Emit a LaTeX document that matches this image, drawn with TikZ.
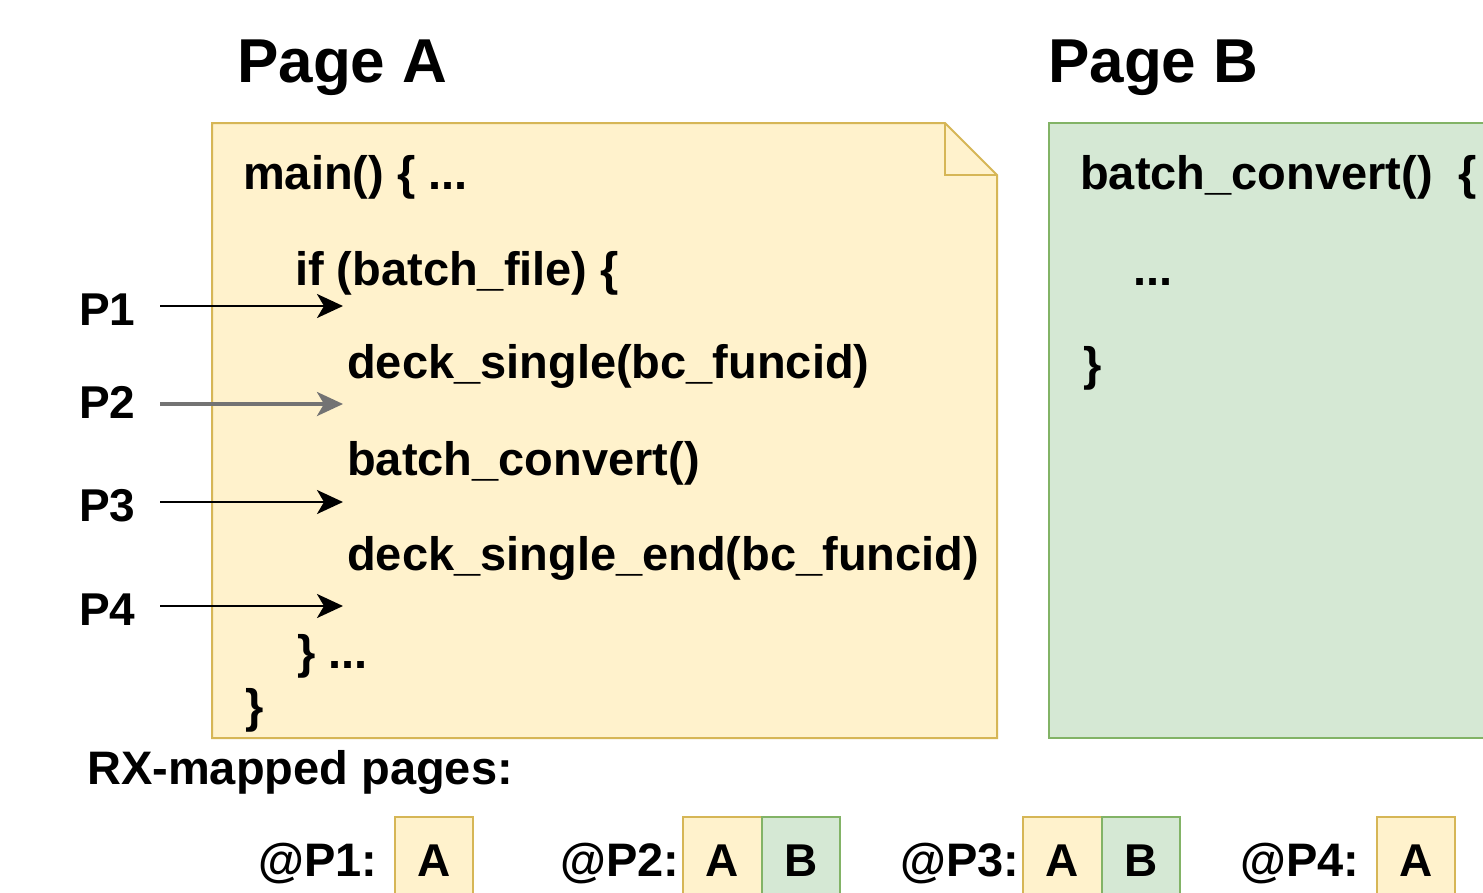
\documentclass[tikz,border=0pt]{standalone}
\usepackage{fontspec}
\setmainfont{Liberation Sans}
\usetikzlibrary{arrows.meta}
\definecolor{ylfill}{HTML}{FFF2CC}
\definecolor{ylline}{HTML}{D6B656}
\definecolor{grfill}{HTML}{D5E8D4}
\definecolor{grline}{HTML}{82B366}
\tikzset{
  txt/.style={anchor=base west, inner sep=0pt, font=\fontsize{47}{56}\selectfont\bfseries},
  title/.style={anchor=base west, inner sep=0pt, font=\fontsize{62}{74}\selectfont\bfseries},
  plabel/.style={anchor=west, inner sep=0pt, font=\fontsize{46}{55}\selectfont\bfseries},
  headtip/.tip={Stealth[length=26pt,width=24pt,inset=7pt]},
  ptr/.style={line width=2.6pt, -headtip},
  ptrg/.style={line width=3.5pt, black!55, -headtip},
  ybox/.style={fill=ylfill, draw=ylline, line width=2pt},
  gbox/.style={fill=grfill, draw=grline, line width=2pt},
  cell/.style={anchor=base, inner sep=0pt, font=\fontsize{46}{55}\selectfont\bfseries},
}
\begin{document}
\begin{tikzpicture}[x=1pt,y=-1pt]
\useasboundingbox (0,0) rectangle (1483,892);
\clip (0,0) rectangle (1483,892);
\fill[white] (0,0) rectangle (1483,892);

% titles
\node[title] (tA) at (237,82) {Page A};
\node[title] (tB) at (1048,82) {Page B};

% page A note
\draw[ybox, line join=miter] (212,123) -- (945,123) -- (997,175) -- (997,738) -- (212,738) -- cycle;
\draw[draw=ylline, line width=2pt, line join=miter] (945,123) -- (945,175) -- (997,175);

% page B
\draw[gbox] (1049,123) rectangle (1500,738);

% page A code
\node[txt] (l1) at (243,189) {main() \{ ...};
\node[txt] (l2) at (295,285) {if (batch\_file) \{};
\node[txt] (l3) at (347,378) {deck\_single(bc\_funcid)};
\node[txt] (l4) at (347,475) {batch\_convert()};
\node[txt] (l5) at (347,570) {deck\_single\_end(bc\_funcid)};
\node[txt] (l6) at (297,668) {\} ...};
\node[txt] (l7) at (245,722) {\}};

% page B code
\node[txt] (b1) at (1080,189) {batch\_convert()\ \ \{};
\node[txt] (b2) at (1133,285) {...};
\node[txt] (b3) at (1083,380) {\}};

% P labels and arrows
\node[plabel] (p1) at (79,310) {P1};
\node[plabel] (p2) at (79,402) {P2};
\node[plabel] (p3) at (79,506) {P3};
\node[plabel] (p4) at (79,610) {P4};
\coordinate (s1) at (160,306); \coordinate (e1) at (343,306);
\coordinate (s2) at (160,404); \coordinate (e2) at (343,404);
\coordinate (s3) at (160,502); \coordinate (e3) at (343,502);
\coordinate (s4) at (160,606); \coordinate (e4) at (343,606);
\draw[ptr] (s1) -- (e1);
\draw[ptrg] (s2) -- (e2);
\draw[ptr] (s3) -- (e3);
\draw[ptr] (s4) -- (e4);

% RX-mapped pages
\node[txt] (rx) at (87,784) {RX-mapped pages:};

\node[txt] (q1) at (258,876) {@P1:};
\draw[ybox] (395,817) rectangle (473,910);
\node[cell] (c1a) at (434,876) {A};

\node[txt] (q2) at (560,876) {@P2:};
\draw[ybox] (683,817) rectangle (762,910);
\draw[gbox] (762,817) rectangle (840,910);
\node[cell] (c2a) at (722,876) {A};
\node[cell] (c2b) at (801,876) {B};

\node[txt] (q3) at (900,876) {@P3:};
\draw[ybox] (1023,817) rectangle (1102,910);
\draw[gbox] (1102,817) rectangle (1180,910);
\node[cell] (c3a) at (1062,876) {A};
\node[cell] (c3b) at (1141,876) {B};

\node[txt] (q4) at (1240,876) {@P4:};
\draw[ybox] (1377,817) rectangle (1455,910);
\node[cell] (c4a) at (1416,876) {A};
\end{tikzpicture}
\end{document}
